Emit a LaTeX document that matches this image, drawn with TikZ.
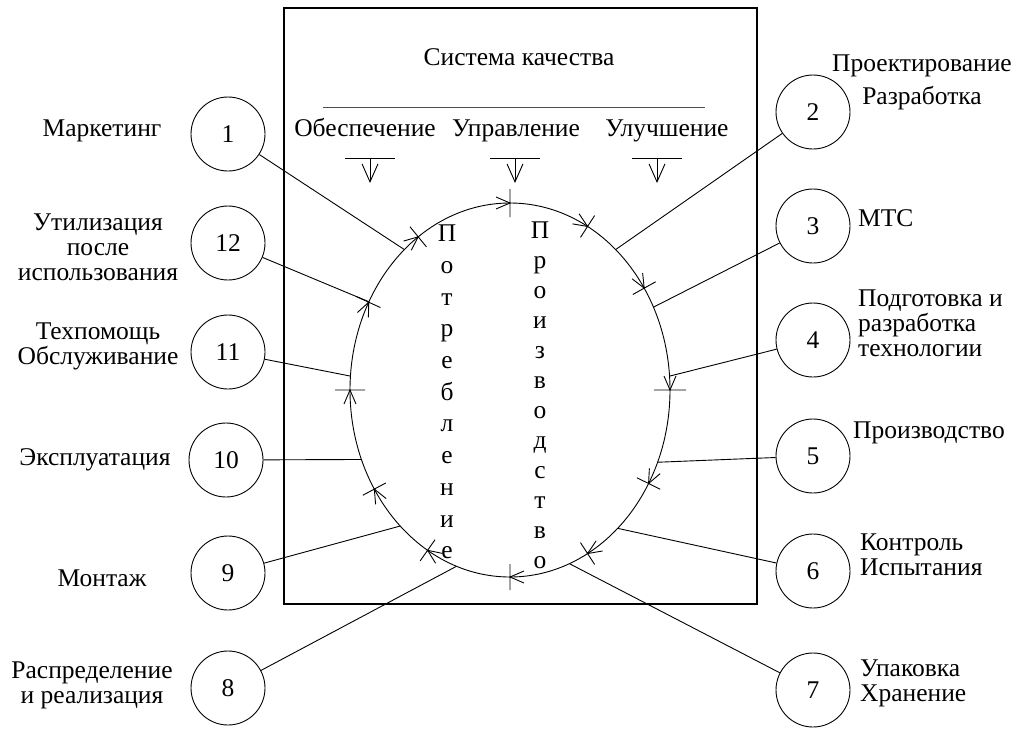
\documentclass[tikz,border=0pt]{standalone}
\usepackage{fontspec}
\setmainfont{Liberation Serif}
\usetikzlibrary{arrows.meta,shapes.geometric}

\begin{document}
\begin{tikzpicture}[
    x=1pt, y=1pt,
    every node/.style = {font=\fontsize{25.5}{25}\selectfont, inner sep=0pt},
    num/.style    = {circle, draw, line width=0.9pt,
                     minimum size=74pt, inner sep=0pt},
    lbl/.style    = {align=center},
    rlbl/.style   = {align=left, anchor=west},
    head/.style   = {anchor=base},
    vtext/.style  = {align=center, font=\fontsize{25.5}{31.7}\selectfont},
    conn/.style   = {line width=0.9pt},
    flow/.style   = {line width=0.9pt},
    down/.style   = {line width=0.9pt, -{Straight Barb[length=18pt,width=16pt]}},
]
\useasboundingbox (0,0) rectangle (1013,-729);

% ─── Quality system frame ────────────────────────────────────────────────
\draw[line width=1.3pt] (284,-8) rectangle (757,-604);

\node[head] (title) at (519,-65) {Система качества};
\draw[line width=0.8pt, black!70] (323,-107) -- (705,-107);

\node[head] (obes) at (365,-136) {Обеспечение};
\node[head] (uprav) at (516,-136) {Управление};
\node[head] (uluch) at (667,-136) {Улучшение};

\foreach \x in {370,515,657} {
  \draw[conn] (\x-25,-158) -- (\x+25,-158);
  \draw[down] (\x,-158) -- (\x,-183);
}

% ─── Life cycle loop ─────────────────────────────────────────────────────
\node[draw, ellipse, line width=0.9pt,
      minimum width=320pt, minimum height=374pt] (oval) at (510,-390) {};

% stage marks, clockwise
\foreach \t/\h in {90/14, 61/13, 33/13, 0/16, 330/13, 299/13,
                   270/13, 239/13, 212/13, 180/15, 152/13, 125/13} {
  \draw[flow, shift={({510+160*cos(\t)},{-390+187*sin(\t)})},
        rotate={atan2(-187*cos(\t),160*sin(\t))}]
    (0,-\h) -- (0,\h)
    (-14,-6) -- (0,0) -- (-14,6);
}

\node[vtext] (potr) at (447,-392)
    {П\\о\\т\\р\\е\\б\\л\\е\\н\\и\\е};
\node[vtext, font=\fontsize{25.5}{30}\selectfont] (proizv) at (540,-395)
    {П\\р\\о\\и\\з\\в\\о\\д\\с\\т\\в\\о};

% ─── Left stages ─────────────────────────────────────────────────────────
\node[num] (n1) at (228,-134) {1};
\node[num] (n12) at (228,-243) {12};
\node[num] (n11) at (228,-352) {11};
\node[num] (n10) at (226,-460) {10};
\node[num] (n9) at (228,-573) {9};
\node[num] (n8) at (228,-688) {8};

\node[lbl] (l1) at (102,-131) {Маркетинг};
\node[lbl] (l12) at (98,-247) {Утилизация\\после\\использования};
\node[lbl] (l11) at (98,-346) {Техпомощь\\Обслуживание};
\node[lbl] (l10) at (95,-460) {Эксплуатация};
\node[lbl] (l9) at (102,-578) {Монтаж};
\node[lbl] (l8) at (92,-685) {Распределение\\и реализация};

% ─── Right stages ────────────────────────────────────────────────────────
\node[num] (n2) at (813,-112) {2};
\node[num] (n3) at (813,-226) {3};
\node[num] (n4) at (813,-340) {4};
\node[num] (n5) at (813,-456) {5};
\node[num] (n6) at (813,-571) {6};
\node[num] (n7) at (813,-690) {7};

\node[lbl] (l2) at (922,-82) {Проектирование\\[8pt]Разработка};
\node[rlbl] (l3) at (858,-218) {МТС};
\node[rlbl] (l4) at (858,-323) {Подготовка и\\разработка\\технологии};
\node[rlbl] (l5) at (853,-433) {Производство};
\node[rlbl] (l6) at (860,-555) {Контроль\\Испытания};
\node[rlbl] (l7) at (860,-683) {Упаковка\\Хранение};

% ─── Connectors to the loop ──────────────────────────────────────────────
\draw[conn] (n1) -- (oval.127);
\draw[conn] (n12) -- (oval.148);
\draw[conn] (n11) -- (oval.175);
\draw[conn] (n10) -- (oval.205);
\draw[conn] (n9) -- (oval.231);
\draw[conn] (n8) -- (oval.253);
\draw[conn] (n7) -- (oval.289);
\draw[conn] (n6) -- (oval.308);
\draw[conn] (n5) -- (oval.334);
\draw[conn] (n4) -- (oval.5);
\draw[conn] (n3) -- (oval.30);
\draw[conn] (n2) -- (oval.53);

\end{tikzpicture}
\end{document}
